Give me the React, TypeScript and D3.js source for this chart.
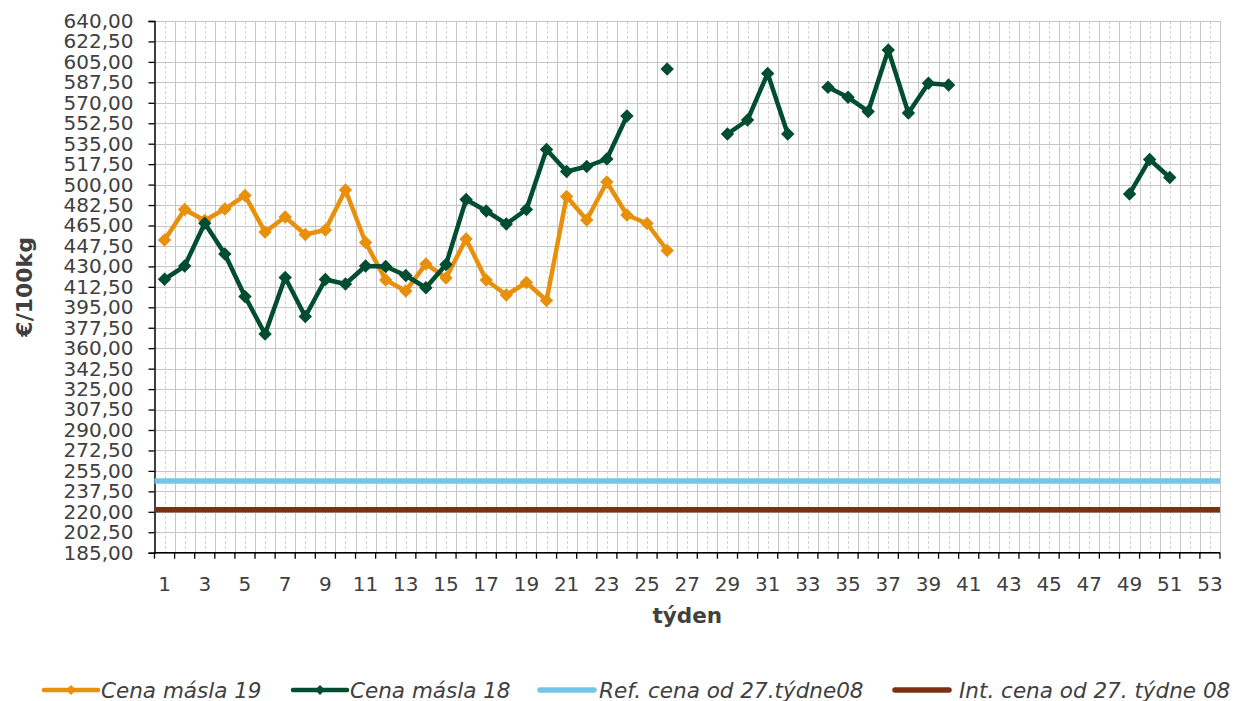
import React, { useEffect, useRef } from "react";
import * as d3 from "d3";

const width = 1238;
const height = 701;

// weeks 1..53
const weeks = d3.range(1, 54);

// Cena másla 19 (weeks 1-26)
const butter19: (number | null)[] = [
  452.6, 478.7, 469.3, 479.1, 490.7, 459.4, 472.3, 457.3, 461.2, 495.4,
  450.5, 418.4, 409.0, 432.1, 420.1, 453.5, 418.4, 405.5, 416.2, 400.8,
  489.8, 469.7, 502.2, 474.0, 466.7, 443.6,
];

// Cena másla 18 (with gaps)
const butter18: (number | null)[] = [
  419.0, 430.3, 466.9, 440.6, 404.3, 372.2, 420.5, 387.1, 418.8, 414.9,
  430.3, 429.9, 422.2, 411.7, 431.6, 487.3, 477.4, 466.3, 478.7, 530.0,
  511.2, 515.5, 521.9, 558.7, null, 598.9, null, null, 543.3, 555.3,
  595.1, 543.3, null, 583.3, 574.7, 562.6, 615.2, 561.3, 586.7, 585.2,
  null, null, null, null, null, null, null, null, 492.0, 521.5,
  506.1, null, null,
];

const refPrice = 246.39;
const intPrice = 221.75;

const yTicks = d3.range(185, 640.01, 17.5);
const xLabels = weeks.filter(w => w % 2 === 1);

const seriesNames = [
  "Cena másla 19",
  "Cena másla 18",
  "Ref. cena od 27.týdne08",
  "Int. cena od 27. týdne 08",
];

const colors = ["#E8900C", "#004D32", "#73C6E8", "#7A3012"];
const legendX = [44, 293, 540, 895];
const legendTextX = [57, 57, 59, 64];

const font = "'DejaVu Sans', Verdana, sans-serif";
const textColor = "#404040";

const App = () => {
  const ref = useRef<SVGSVGElement>(null);

  useEffect(() => {
    document.body.style.margin = "0";
    const svg = d3.select(ref.current);
    svg.selectAll("*").remove();

    const x = d3.scaleBand<number>().domain(weeks).range([154.5, 1220]);
    const y = d3.scaleLinear().domain([185, 640]).range([552.7, 21]);
    const cx = (w: number) => (x(w) as number) + x.bandwidth() / 2;
    const edge = (d: number) => d === 54 ? x.range()[1] : (x(d) as number);

    const grid = svg.append("g").attr("shape-rendering", "crispEdges");

    // dashed minor verticals at category centers
    grid.selectAll("line.minor")
      .data(weeks)
      .join("line")
      .attr("class", "minor")
      .attr("x1", d => Math.round(cx(d)) + 0.5)
      .attr("x2", d => Math.round(cx(d)) + 0.5)
      .attr("y1", y(640))
      .attr("y2", y(185))
      .attr("stroke", "#d4d4d4")
      .attr("stroke-dasharray", "3,2");

    // solid verticals at category boundaries
    grid.selectAll("line.major")
      .data(weeks.slice(1).concat([54]))
      .join("line")
      .attr("class", "major")
      .attr("x1", d => Math.round(edge(d)) + 0.5)
      .attr("x2", d => Math.round(edge(d)) + 0.5)
      .attr("y1", y(640))
      .attr("y2", y(185))
      .attr("stroke", "#c6c6c6")
      .attr("stroke-width", 1.3);

    // horizontal grid
    grid.selectAll("line.h")
      .data(yTicks)
      .join("line")
      .attr("class", "h")
      .attr("x1", x.range()[0])
      .attr("x2", x.range()[1])
      .attr("y1", d => Math.round(y(d)) + 0.5)
      .attr("y2", d => Math.round(y(d)) + 0.5)
      .attr("stroke", "#c6c6c6")
      .attr("stroke-width", 1.3);

    // y axis
    const yAxis = svg.append("g")
      .attr("transform", `translate(${x.range()[0]},0)`)
      .call(d3.axisLeft(y)
        .tickValues(yTicks)
        .tickSize(6)
        .tickPadding(15)
        .tickFormat(d => d3.format(".2f")(d as number).replace(".", ",")));
    yAxis.select(".domain").attr("stroke", "#000").attr("stroke-width", 1.5);
    yAxis.selectAll(".tick line").attr("stroke", "#000").attr("stroke-width", 1.3);
    yAxis.selectAll("text")
      .attr("font-family", font)
      .attr("font-size", 20)
      .attr("fill", textColor);

    // x axis: ticks at boundaries, labels at centers
    const xg = svg.append("g").attr("transform", `translate(0,${y(185)})`);
    xg.append("line")
      .attr("x1", x.range()[0])
      .attr("x2", x.range()[1])
      .attr("stroke", "#000")
      .attr("stroke-width", 1.5);
    xg.selectAll("line.t")
      .data(weeks.concat([54]))
      .join("line")
      .attr("class", "t")
      .attr("x1", d => edge(d))
      .attr("x2", d => edge(d))
      .attr("y1", 0)
      .attr("y2", 6)
      .attr("stroke", "#000")
      .attr("stroke-width", 1.3);
    xg.selectAll("text")
      .data(xLabels)
      .join("text")
      .attr("x", d => cx(d))
      .attr("y", 38)
      .attr("text-anchor", "middle")
      .attr("font-family", font)
      .attr("font-size", 20)
      .attr("fill", textColor)
      .text(d => d);

    // axis titles
    svg.append("text")
      .attr("x", (x.range()[0] + x.range()[1]) / 2)
      .attr("y", 623)
      .attr("text-anchor", "middle")
      .attr("font-family", font)
      .attr("font-size", 21.5)
      .attr("font-weight", "bold")
      .attr("fill", textColor)
      .text("týden");

    svg.append("text")
      .attr("transform", `translate(32,${(y(185) + y(640)) / 2}) rotate(-90)`)
      .attr("text-anchor", "middle")
      .attr("font-family", font)
      .attr("font-size", 22)
      .attr("font-weight", "bold")
      .attr("fill", textColor)
      .text("€/100kg");

    // reference lines across the whole plot
    [refPrice, intPrice].forEach((v, i) => {
      svg.append("path")
        .attr("d", d3.line()([[x.range()[0], y(v)], [x.range()[1], y(v)]]))
        .attr("stroke", colors[i + 2])
        .attr("stroke-width", 5.5)
        .attr("fill", "none");
    });

    const diamond = d3.symbol(d3.symbolSquare, 90);

    [butter19, butter18].forEach((series, i) => {
      const pts = series.map((v, k) => ({ w: weeks[k], v }));
      const line = d3.line<{ w: number; v: number | null }>()
        .defined(d => d.v != null)
        .x(d => cx(d.w))
        .y(d => y(d.v as number));
      svg.append("path")
        .datum(pts)
        .attr("d", line)
        .attr("fill", "none")
        .attr("stroke", colors[i])
        .attr("stroke-width", 4.5)
        .attr("stroke-linejoin", "round");
      svg.append("g")
        .selectAll("path")
        .data(pts.filter(d => d.v != null))
        .join("path")
        .attr("d", diamond)
        .attr("transform", d => `translate(${cx(d.w)},${y(d.v as number)}) rotate(45)`)
        .attr("fill", colors[i]);
    });

    // legend
    const lg = svg.append("g").attr("transform", "translate(0,690)");
    seriesNames.forEach((name, i) => {
      const g = lg.append("g").attr("transform", `translate(${legendX[i]},0)`);
      g.append("line")
        .attr("x1", 0)
        .attr("x2", 54)
        .attr("stroke", colors[i])
        .attr("stroke-width", i < 2 ? 4.5 : 5.5)
        .attr("stroke-linecap", "round");
      if (i < 2) {
        g.append("path")
          .attr("d", d3.symbol(d3.symbolSquare, 50))
          .attr("transform", "translate(27,0) rotate(45)")
          .attr("fill", colors[i]);
      }
      g.append("text")
        .attr("x", legendTextX[i])
        .attr("y", 7.5)
        .attr("font-family", font)
        .attr("font-size", 21.5)
        .attr("font-style", "italic")
        .attr("fill", textColor)
        .text(name);
    });
  }, []);

  return (
    <svg
      ref={ref}
      width={width}
      height={height}
      style={{ position: "absolute", left: 0, top: 0, background: "#fff" }}
    />
  );
};

export default App;
